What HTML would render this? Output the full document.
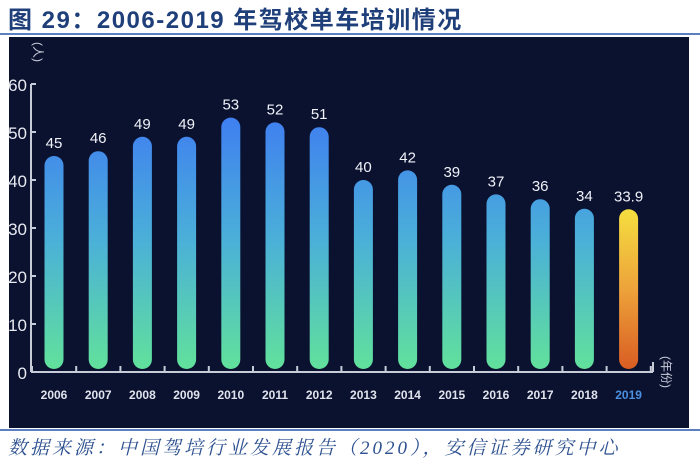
<!DOCTYPE html>
<html><head><meta charset="utf-8"><style>
body{margin:0;width:700px;height:463px;background:#fff;overflow:hidden;position:relative;font-family:"Liberation Sans","Noto Sans CJK SC",sans-serif}
#title{position:absolute;left:8px;top:0px;font-size:24px;font-weight:bold;color:#1f3f7a;white-space:nowrap;letter-spacing:1.5px}
#rule1{position:absolute;left:0;top:33px;width:700px;height:2px;background:#5b7fbf}
#rule2{position:absolute;left:0;top:429px;width:700px;height:2px;background:#5b7fbf}
#src{position:absolute;left:8px;top:433px;font-size:19px;font-style:italic;color:#2b4f8f;font-family:"Liberation Serif","Noto Serif CJK SC",serif;white-space:nowrap;letter-spacing:3px}
svg{position:absolute;left:0;top:0}
</style></head><body>
<div id="title">图 29：2006-2019 年驾校单车培训情况</div>
<div id="rule1"></div>
<svg id="chart" width="700" height="463">
<defs>
<linearGradient id="gb" gradientUnits="userSpaceOnUse" x1="0" y1="110" x2="0" y2="372"><stop offset="0" stop-color="#3f7cf2"/><stop offset="0.5" stop-color="#4bb0d8"/><stop offset="1" stop-color="#62e29a"/></linearGradient>
<linearGradient id="go" gradientUnits="userSpaceOnUse" x1="0" y1="208" x2="0" y2="372"><stop offset="0" stop-color="#f5e040"/><stop offset="0.5" stop-color="#eda23a"/><stop offset="1" stop-color="#d85a22"/></linearGradient>
</defs>
<rect x="9" y="37" width="680" height="391" fill="#0b1230"/>
<g id="g"></g>
</svg>
<div id="rule2"></div>
<div id="src">数据来源：中国驾培行业发展报告（2020），安信证券研究中心</div>
<script>
const categories=["2006","2007","2008","2009","2010","2011","2012","2013","2014","2015","2016","2017","2018","2019"];
const values=[45,46,49,49,53,52,51,40,42,39,37,36,34,33.9];
const labels=["45","46","49","49","53","52","51","40","42","39","37","36","34","33.9"];
const yTicks=[0,10,20,30,40,50,60];
const NS="http://www.w3.org/2000/svg",g=document.getElementById('g');
const y=v=>372-v*4.8, x=i=>54+i*44.2;
function el(t,a,p){const e=document.createElementNS(NS,t);for(const k in a)e.setAttribute(k,a[k]);(p||g).appendChild(e);return e;}
const ax=el('line',{x1:31,y1:y(60),x2:31,y2:372,stroke:'#c8ccd8','stroke-width':2});


const bx=el('line',{x1:31,y1:372,x2:653,y2:372,stroke:'#c8ccd8','stroke-width':2});


yTicks.forEach(t=>{
 el('line',{x1:31,y1:y(t),x2:36,y2:y(t),stroke:'#c8ccd8','stroke-width':2});
 const tx=el('text',{x:27,y:y(t)+7,'text-anchor':'end',fill:'#e8eaf0','font-size':17});
 tx.textContent=t;
 
 
});
for(let i=0;i<=categories.length;i++){el('line',{x1:x(i)-22,y1:366,x2:x(i)-22,y2:372,stroke:'#c8ccd8','stroke-width':2});}
el('line',{x1:653,y1:362,x2:653,y2:372,stroke:'#c8ccd8','stroke-width':2});
categories.forEach((c,i)=>{
 const last=i===categories.length-1,w=19,top=y(values[i]);
 const b=el('rect',{x:x(i)-w/2,y:top,width:w,height:369-top,rx:9.5,fill:last?'url(#go)':'url(#gb)'});
 
 
 const v=el('text',{x:x(i),y:top-8,'text-anchor':'middle',fill:'#f0f2f8','font-size':15});
 v.textContent=labels[i];
 
 
 const t=el('text',{x:x(i),y:399,'text-anchor':'middle',fill:last?'#4a8fe0':'#e0e3ec','font-size':12,'font-weight':'bold'});
 t.textContent=c;
 
 
});
const yu=el('text',{x:34,y:52,'text-anchor':'middle',fill:'#c8ccd8','font-size':12,transform:'rotate(90 34 52)'});
yu.textContent='(人)';


const xu=el('text',{x:662,y:372,'text-anchor':'middle',fill:'#c8ccd8','font-size':12,transform:'rotate(90 662 372)'});
xu.textContent='(年份)';


</script>
</body></html>
